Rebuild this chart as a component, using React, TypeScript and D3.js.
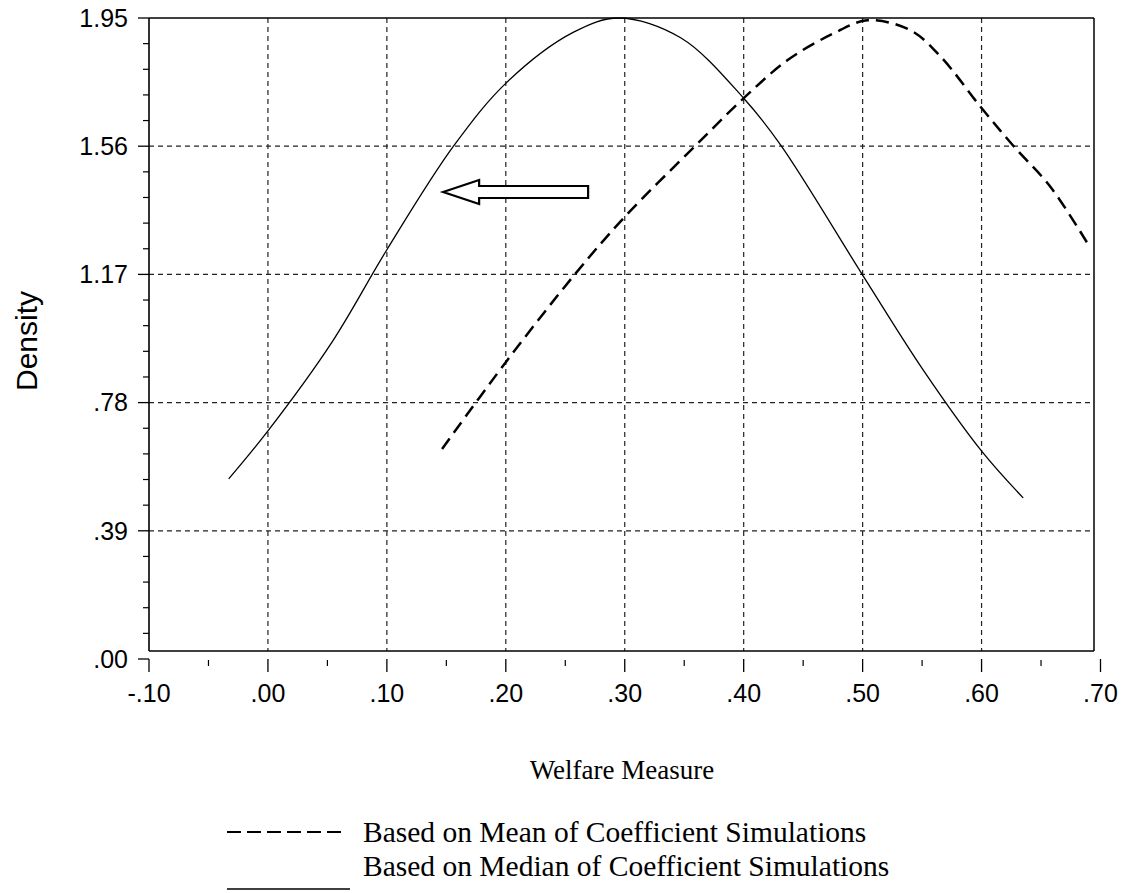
import React from "react";
import * as d3 from "d3";

const xTicks = [-0.1, 0, 0.1, 0.2, 0.3, 0.4, 0.5, 0.6, 0.7];
const xTickLabels = ["-.10", ".00", ".10", ".20", ".30", ".40", ".50", ".60", ".70"];
const yTicks = [0, 0.39, 0.78, 1.17, 1.56, 1.95];
const yTickLabels = [".00", ".39", ".78", "1.17", "1.56", "1.95"];

// Based on Median of Coefficient Simulations (solid)
const medianX = [-0.033, 0.0, 0.054, 0.1, 0.156, 0.201, 0.257, 0.295, 0.347, 0.4, 0.431, 0.5, 0.551, 0.6006, 0.635];
const medianY = [0.548, 0.694, 0.965, 1.245, 1.56, 1.755, 1.907, 1.95, 1.89, 1.706, 1.564, 1.168, 0.879, 0.63, 0.49];

// Based on Mean of Coefficient Simulations (dashed)
const meanX = [0.1464, 0.2, 0.258, 0.3, 0.359, 0.4, 0.437, 0.475, 0.504, 0.54, 0.565, 0.6, 0.627, 0.658, 0.689];
const meanY = [0.639, 0.903, 1.17, 1.345, 1.56, 1.706, 1.822, 1.902, 1.943, 1.913, 1.835, 1.676, 1.56, 1.436, 1.265];

const legendLabels = ["Based on Mean of Coefficient Simulations", "Based on Median of Coefficient Simulations"];
const xTitle = "Welfare Measure";
const yTitle = "Density";

// arrow annotation (data coordinates: tip and tail)
const arrowTip = [0.1473, 1.4206];
const arrowTail = [0.2692, 1.4206];

export default function App() {
  const x = d3.scaleLinear().domain([-0.1, 0.7]).range([149, 1100.5]);
  const y = d3.scaleLinear().domain([0, 1.95]).range([659, 18]);

  const boxLeft = 149, boxRight = 1094, boxTop = 18, boxBottom = 651;

  const line = d3
    .line<[number, number]>()
    .x((d) => x(d[0]))
    .y((d) => y(d[1]))
    .curve(d3.curveCatmullRom.alpha(0.5));

  const medianPts = medianX.map((v, i) => [v, medianY[i]] as [number, number]);
  const meanPts = meanX.map((v, i) => [v, meanY[i]] as [number, number]);

  const minorX = d3.range(0, 8).map((i) => -0.1 + 0.05 + i * 0.1);
  const minorY: number[] = [];
  for (let i = 0; i < 5; i++) for (let j = 1; j < 5; j++) minorY.push(i * 0.39 + j * 0.078);

  // arrow polygon
  const tx = x(arrowTip[0]), ty = y(arrowTip[1]);
  const ex = x(arrowTail[0]);
  const headLen = 36, headHalf = 12, shaftHalf = 6;
  const arrowPath = [
    [tx, ty],
    [tx + headLen, ty - headHalf],
    [tx + headLen, ty - shaftHalf],
    [ex, ty - shaftHalf],
    [ex, ty + shaftHalf],
    [tx + headLen, ty + shaftHalf],
    [tx + headLen, ty + headHalf],
  ]
    .map((p) => p.join(","))
    .join(" ");

  const gridColor = "#222";
  const sans = "'Liberation Sans', Arial, sans-serif";
  const serif = "'Liberation Serif', 'Times New Roman', serif";

  return (
    <svg
      width={1134}
      height={893}
      style={{ position: "absolute", left: 0, top: 0, background: "#fff" }}
    >
      <rect x={0} y={0} width={1134} height={893} fill="#fff" />
      {/* vertical grid */}
      {xTicks.slice(1, 8).map((t) => (
        <line key={"gx" + t} x1={x(t)} x2={x(t)} y1={boxTop} y2={boxBottom} stroke={gridColor} strokeWidth={1.2} strokeDasharray="5,4" />
      ))}
      {/* horizontal grid */}
      {yTicks.slice(1, 5).map((t) => (
        <line key={"gy" + t} x1={boxLeft} x2={boxRight} y1={y(t)} y2={y(t)} stroke={gridColor} strokeWidth={1.2} strokeDasharray="5,4" />
      ))}
      {/* box */}
      <line x1={boxLeft} x2={boxRight} y1={boxTop} y2={boxTop} stroke="#000" strokeWidth={1.5} />
      <line x1={boxRight} x2={boxRight} y1={boxTop} y2={boxBottom} stroke="#000" strokeWidth={1.5} />
      <line x1={boxLeft} x2={boxRight} y1={boxBottom} y2={boxBottom} stroke="#000" strokeWidth={1.6} />
      <line x1={boxLeft} x2={boxLeft} y1={boxTop} y2={boxBottom} stroke="#000" strokeWidth={1.6} />

      {/* y ticks */}
      {yTicks.map((t, i) => (
        <g key={"yt" + t}>
          <line x1={138} x2={boxLeft} y1={y(t)} y2={y(t)} stroke="#000" strokeWidth={1.3} />
          <text x={128} y={y(t)} dy="0.35em" textAnchor="end" fontFamily={sans} fontSize={25} fill="#000">
            {yTickLabels[i]}
          </text>
        </g>
      ))}
      {minorY.map((t) => (
        <line key={"ym" + t} x1={143} x2={boxLeft} y1={y(t)} y2={y(t)} stroke="#000" strokeWidth={1.2} />
      ))}
      {/* x ticks */}
      {xTicks.map((t, i) => (
        <g key={"xt" + t}>
          <line x1={x(t)} x2={x(t)} y1={y(0)} y2={y(0) + 13} stroke="#000" strokeWidth={1.3} />
          <text x={x(t)} y={702} textAnchor="middle" fontFamily={sans} fontSize={25} fill="#000">
            {xTickLabels[i]}
          </text>
        </g>
      ))}
      {minorX.map((t) => (
        <line key={"xm" + t} x1={x(t)} x2={x(t)} y1={y(0) + 1} y2={y(0) + 7} stroke="#000" strokeWidth={1.2} />
      ))}

      {/* curves */}
      <path d={line(medianPts) || ""} fill="none" stroke="#000" strokeWidth={1.3} />
      <path d={line(meanPts) || ""} fill="none" stroke="#000" strokeWidth={2.5} strokeDasharray="13,7" />

      {/* arrow */}
      <polygon points={arrowPath} fill="#fff" stroke="#000" strokeWidth={2.2} strokeLinejoin="miter" />

      {/* axis titles */}
      <text x={622} y={779} textAnchor="middle" fontFamily={serif} fontSize={27} fill="#000">
        {xTitle}
      </text>
      <text
        transform={`translate(37,341) rotate(-90)`}
        textAnchor="middle"
        fontFamily={sans}
        fontSize={30}
        fill="#000"
      >
        {yTitle}
      </text>

      {/* legend */}
      <line x1={227} x2={347} y1={832} y2={832} stroke="#000" strokeWidth={2} strokeDasharray="14,6" />
      <text x={363} y={842} fontFamily={serif} fontSize={29.5} fill="#000">
        {legendLabels[0]}
      </text>
      <line x1={227} x2={350} y1={889} y2={889} stroke="#000" strokeWidth={1.5} />
      <text x={363} y={876} fontFamily={serif} fontSize={29.5} fill="#000">
        {legendLabels[1]}
      </text>
    </svg>
  );
}
